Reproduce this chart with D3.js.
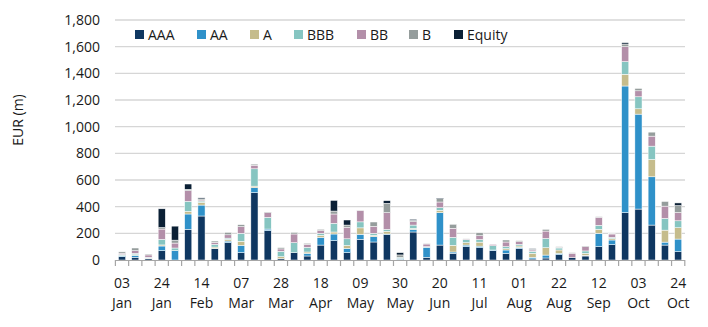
<!DOCTYPE html>
<html><head><meta charset="utf-8">
<script src="https://cdn.jsdelivr.net/npm/d3@7"></script>
<style>
html,body{margin:0;padding:0;background:#fff;}
svg text{font-family:"Open Sans",sans-serif;fill:#1a1a1a;}
</style></head>
<body><svg id="c" width="708" height="327"></svg>
<script>
const weeks = ["03 Jan","10 Jan","17 Jan","24 Jan","31 Jan","07 Feb","14 Feb","21 Feb","28 Feb","07 Mar","14 Mar","21 Mar","28 Mar","04 Apr","11 Apr","18 Apr","25 Apr","02 May","09 May","16 May","23 May","30 May","06 Jun","13 Jun","20 Jun","27 Jun","04 Jul","11 Jul","18 Jul","25 Jul","01 Aug","08 Aug","15 Aug","22 Aug","29 Aug","05 Sep","12 Sep","19 Sep","26 Sep","03 Oct","10 Oct","17 Oct","24 Oct"];
const seriesNames = ["AAA","AA","A","BBB","BB","B","Equity"];
const AAA = [25,20,10,70,0,230,330,85,130,55,505,220,10,55,30,112,145,55,155,135,190,5,210,20,112,50,100,92,70,50,85,8,15,40,18,30,100,115,355,382,262,112,62];
const AA = [5,15,3,35,70,115,82,2,12,55,37,12,0,0,20,58,50,32,38,40,5,7,20,75,243,10,12,12,5,25,10,12,22,10,0,5,100,35,950,712,362,22,95];
const A = [3,5,2,8,0,20,20,10,12,30,12,0,15,0,10,15,15,22,48,10,20,0,7,0,18,50,18,30,0,10,10,30,55,25,0,15,30,10,88,40,130,90,85];
const BBB = [8,10,5,42,20,75,10,20,10,60,130,88,40,75,35,15,65,50,45,15,15,8,25,5,20,60,22,20,32,15,12,15,70,15,0,18,30,10,95,90,100,88,52];
const BB = [10,20,18,77,37,80,8,15,25,50,27,35,18,65,22,20,70,85,85,52,125,0,25,20,42,68,5,28,10,35,20,10,55,5,32,32,60,25,112,45,75,92,62];
const B = [10,20,7,12,22,10,8,10,18,15,8,5,10,12,8,10,22,18,2,33,70,18,10,5,25,30,3,22,0,15,8,5,13,5,5,5,5,5,20,18,30,35,52];
const Equity = [0,0,0,140,105,40,8,0,0,0,0,0,0,0,0,0,80,38,0,0,20,17,8,0,5,0,0,0,0,0,0,5,0,0,0,0,0,0,10,0,0,0,20];
const yTicks = [0,200,400,600,800,1000,1200,1400,1600,1800];
const yLabel = "EUR (m)";
const colors = ["#0f3761","#2f91c9","#c5bc8c","#86c5c1","#b38fa9","#959d9c","#0b2035"];

const seriesData = [AAA,AA,A,BBB,BB,B,Equity];
const rows = weeks.map((w,i)=>{const r={week:w}; seriesNames.forEach((s,k)=>r[s]=seriesData[k][i]); return r;});
const stacked = d3.stack().keys(seriesNames)(rows);

const svg = d3.select("#c");
const x = d3.scaleBand().domain(weeks).range([115.4,684.8]).paddingInner(0.46).paddingOuter(0.23);
const y = d3.scaleLinear().domain([0,1800]).range([260,20]);

// gridlines
svg.append("g").selectAll("line").data(yTicks.filter(t=>t>0)).join("line")
  .attr("x1",115).attr("x2",685).attr("y1",d=>y(d)).attr("y2",d=>y(d))
  .attr("stroke","#d6d6d6").attr("stroke-width",1.3);

// y tick labels
svg.append("g").selectAll("text").data(yTicks).join("text")
  .attr("x",100).attr("y",d=>y(d)).attr("dy","0.36em").attr("text-anchor","end")
  .style("font-size","14px").text(d=>d3.format(",")(d));

svg.append("text").attr("transform","translate(23,120) rotate(-90)")
  .attr("text-anchor","middle").style("font-size","14px").text(yLabel);

// bars
svg.append("g").selectAll("g").data(stacked).join("g")
  .attr("fill",(d,i)=>colors[i])
  .selectAll("rect").data(d=>d.filter(p=>p[1]-p[0]>0)).join("rect")
  .attr("x",d=>x(d.data.week)).attr("width",x.bandwidth())
  .attr("y",d=>y(d[1])).attr("height",d=>y(d[0])-y(d[1]))
  .attr("stroke","#ffffff").attr("stroke-width",0.5);

// x axis
const step = x.step();
const bounds = weeks.map((w,i)=>115.4 + i*step).concat([115.4+weeks.length*step]);
svg.append("line").attr("x1",115).attr("x2",685).attr("y1",260.5).attr("y2",260.5)
  .attr("stroke","#a6a6a6").attr("stroke-width",1.2);
svg.append("g").selectAll("line").data(bounds).join("line")
  .attr("x1",d=>d).attr("x2",d=>d).attr("y1",260).attr("y2",266)
  .attr("stroke","#a6a6a6").attr("stroke-width",1.2);

const lbl = svg.append("g").selectAll("text").data(weeks.filter((w,i)=>i%3===0)).join("text")
  .attr("text-anchor","middle").style("font-size","14px")
  .attr("transform",d=>`translate(${x(d)+x.bandwidth()/2},0)`);
lbl.append("tspan").attr("x",0).attr("y",288).text(d=>d.split(" ")[0]);
lbl.append("tspan").attr("x",0).attr("y",308).text(d=>d.split(" ")[1]);

// legend
const legX = [135,197,250,294,357,409,454];
const lg = svg.append("g").selectAll("g").data(seriesNames).join("g")
  .attr("transform",(d,i)=>`translate(${legX[i]},30)`);
lg.append("rect").attr("width",9).attr("height",9).attr("fill",(d,i)=>colors[i]);
lg.append("text").attr("x",13).attr("y",4.5).attr("dy","0.36em").style("font-size","14px").text(d=>d);
</script></body></html>
